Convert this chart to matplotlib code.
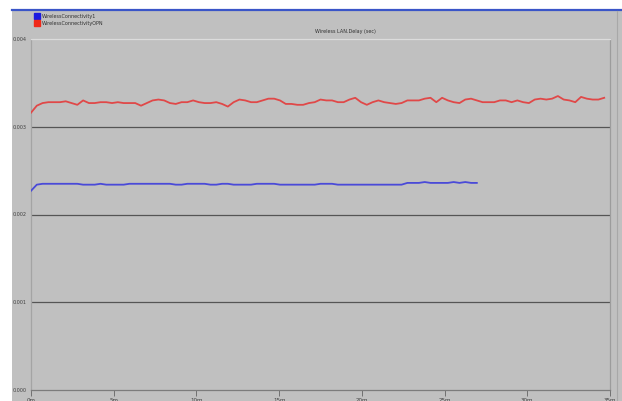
import matplotlib.pyplot as plt
from matplotlib.lines import Line2D
from matplotlib.patches import Rectangle

# sample interval of the collected statistic, minutes
STEP_MIN = 0.35

series_names = ["WirelessConnectivity1", "WirelessConnectivityOPN"]

delay_opn = [
    0.00316, 0.00324, 0.00327, 0.00328, 0.00328, 0.00328, 0.00329, 0.00327, 0.00325, 0.00330,
    0.00327, 0.00327, 0.00328, 0.00328, 0.00327, 0.00328, 0.00327, 0.00327, 0.00327, 0.00324,
    0.00327, 0.00330, 0.00331, 0.00330, 0.00327, 0.00326, 0.00328, 0.00328, 0.00330, 0.00328,
    0.00327, 0.00327, 0.00328, 0.00326, 0.00323, 0.00328, 0.00331, 0.00330, 0.00328, 0.00328,
    0.00330, 0.00332, 0.00332, 0.00330, 0.00326, 0.00326, 0.00325, 0.00325, 0.00327, 0.00328,
    0.00331, 0.00330, 0.00330, 0.00328, 0.00328, 0.00331, 0.00333, 0.00328, 0.00325, 0.00328,
    0.00330, 0.00328, 0.00327, 0.00326, 0.00327, 0.00330, 0.00330, 0.00330, 0.00332, 0.00333,
    0.00328, 0.00333, 0.00330, 0.00328, 0.00327, 0.00331, 0.00332, 0.00330, 0.00328, 0.00328,
    0.00328, 0.00330, 0.00330, 0.00328, 0.00330, 0.00328, 0.00327, 0.00331, 0.00332, 0.00331,
    0.00332, 0.00335, 0.00331, 0.00330, 0.00328, 0.00334, 0.00332, 0.00331, 0.00331, 0.00333,
]

delay_1 = [
    0.00227, 0.00234, 0.00235, 0.00235, 0.00235, 0.00235, 0.00235, 0.00235, 0.00235, 0.00234,
    0.00234, 0.00234, 0.00235, 0.00234, 0.00234, 0.00234, 0.00234, 0.00235, 0.00235, 0.00235,
    0.00235, 0.00235, 0.00235, 0.00235, 0.00235, 0.00234, 0.00234, 0.00235, 0.00235, 0.00235,
    0.00235, 0.00234, 0.00234, 0.00235, 0.00235, 0.00234, 0.00234, 0.00234, 0.00234, 0.00235,
    0.00235, 0.00235, 0.00235, 0.00234, 0.00234, 0.00234, 0.00234, 0.00234, 0.00234, 0.00234,
    0.00235, 0.00235, 0.00235, 0.00234, 0.00234, 0.00234, 0.00234, 0.00234, 0.00234, 0.00234,
    0.00234, 0.00234, 0.00234, 0.00234, 0.00234, 0.00236, 0.00236, 0.00236, 0.00237, 0.00236,
    0.00236, 0.00236, 0.00236, 0.00237, 0.00236, 0.00237, 0.00236, 0.00236,
]

y_ticks = [0.0, 0.001, 0.002, 0.003, 0.004]
y_tick_labels = ["0.000", "0.001", "0.002", "0.003", "0.004"]
x_ticks = [0, 5, 10, 15, 20, 25, 30, 35]
x_tick_labels = ["0m", "5m", "10m", "15m", "20m", "25m", "30m", "35m"]

BG = "#c0c0c0"
W, H = 622, 401

fig = plt.figure(figsize=(W / 100, H / 100), dpi=100, facecolor=BG)

# window chrome: white margin on the left and top, blue rule under it
fig.patches.append(Rectangle((0, 0), 12 / W, 1, transform=fig.transFigure,
                             facecolor="white", edgecolor="none", zorder=0))
fig.patches.append(Rectangle((0, 1 - 9 / H), 1, 9 / H, transform=fig.transFigure,
                             facecolor="white", edgecolor="none", zorder=0))
fig.add_artist(Line2D([12 / W, 1], [1 - 10 / H, 1 - 10 / H], transform=fig.transFigure,
                      color="#3a55c8", lw=1.6))
fig.add_artist(Line2D([617 / W, 617 / W], [0, 1 - 11 / H], transform=fig.transFigure,
                      color="#a8a8a8", lw=0.8))

ax = fig.add_axes([31 / W, 11 / H, (610 - 31) / W, (390 - 39) / H])
ax.set_facecolor(BG)

t_opn = [i * STEP_MIN for i in range(len(delay_opn))]
t_1 = [i * STEP_MIN for i in range(len(delay_1))]
ax.plot(t_opn, delay_opn, color="#e04848", lw=1.3, zorder=3)
ax.plot(t_1, delay_1, color="#4a4ad8", lw=1.3, zorder=3)

ax.set_xlim(0, 35)
ax.set_ylim(0, 0.004)
ax.set_yticks(y_ticks, y_tick_labels)
ax.set_xticks(x_ticks, x_tick_labels)
ax.tick_params(axis="y", length=0, pad=3, labelsize=3.5, labelcolor="#404040")
ax.tick_params(axis="x", length=4, width=0.7, color="#707070", pad=2,
               labelsize=4, labelcolor="#404040")

for v in y_ticks[1:-1]:
    ax.axhline(v, color="#555555", lw=0.9, zorder=1)

ax.spines["top"].set_color("#dcdcdc")
ax.spines["left"].set_color("#a4a4a4")
ax.spines["right"].set_color("#9c9c9c")
ax.spines["bottom"].set_color("#7c7c7c")
for s in ax.spines.values():
    s.set_linewidth(0.9)

fig.text(345 / W, 1 - 31 / H, "Wireless LAN.Delay (sec)", fontsize=3.5,
         color="#303030", ha="center", va="center")

handles = [
    Line2D([], [], ls="", marker="s", markersize=3.8, color="#1a1ae0"),
    Line2D([], [], ls="", marker="s", markersize=3.8, color="#f02818"),
]
fig.legend(handles, series_names, loc="upper left",
           bbox_to_anchor=(35 / W, 1 - 14 / H), frameon=False, fontsize=3.5,
           labelcolor="#303030", handletextpad=0.6, borderaxespad=0,
           labelspacing=0.35, handlelength=0.8, borderpad=0)

fig.savefig("out.png", dpi=100, facecolor=BG)
